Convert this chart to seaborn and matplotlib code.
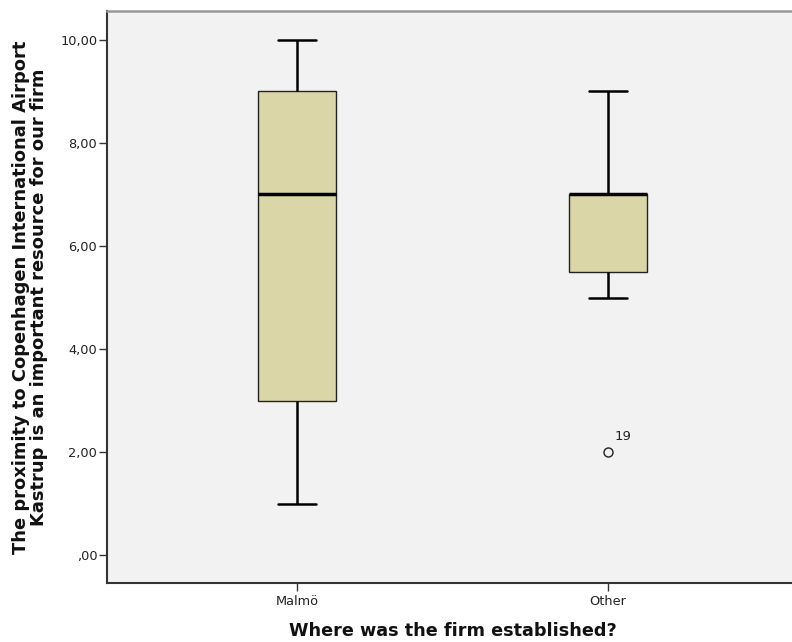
import matplotlib
matplotlib.use("Agg")
import matplotlib.pyplot as plt
import seaborn as sns
import pandas as pd

# Data (raw responses chosen so the boxplot statistics match the reference)
malmo_values = [1, 2, 3, 5, 7, 8, 9, 9, 10]
other_values = [2, 5, 5, 6, 7, 7, 7, 7, 7, 8, 9]
categories = ["Malmö", "Other"]
outlier_label = "19"
outlier_value = 2
y_ticks = [0, 2, 4, 6, 8, 10]

df = pd.DataFrame({
    "group": ["Malmö"] * len(malmo_values) + ["Other"] * len(other_values),
    "value": malmo_values + other_values,
})

sns.set_theme(style="ticks")
plt.rcParams["font.family"] = ["DejaVu Sans"]

fig = plt.figure(figsize=(7.92, 6.42), dpi=100)
ax = fig.add_axes([107 / 792, 1 - 583 / 642, (798 - 107) / 792, (583 - 11) / 642])
ax.set_facecolor("#F2F2F2")

sns.boxplot(data=df, x="group", y="value", order=categories, ax=ax,
            color="#DAD6A8", saturation=1, width=0.248, whis=1.5,
            linecolor="black", linewidth=1.6,
            boxprops=dict(linewidth=1.0, edgecolor="#222222"),
            medianprops=dict(linewidth=2.5, color="black"),
            whiskerprops=dict(linewidth=1.8, color="black"),
            capprops=dict(linewidth=1.8, color="black"),
            flierprops=dict(marker="o", markersize=6.5, markerfacecolor="none",
                            markeredgecolor="#222222", markeredgewidth=1.0))

ax.annotate(outlier_label, xy=(categories.index("Other"), outlier_value),
            xytext=(4.5, 6.5), textcoords="offset points", fontsize=9.5,
            color="#222222", ha="left", va="bottom")

ax.set_xlim(-190 / 311, 1 + 190 / 311)
ax.set_ylim(-0.54, 10.56)
ax.set_yticks(y_ticks)
ax.set_yticklabels([("%.2f" % v).replace(".", ",").lstrip("0") if v == 0 else ("%.2f" % v).replace(".", ",") for v in y_ticks])
ax.tick_params(axis="both", direction="out", length=6, width=1, color="#333333",
               labelsize=9.3, labelcolor="#222222")
ax.tick_params(axis="x", pad=2.5)
ax.tick_params(axis="y", pad=1)
ax.set_xlabel("Where was the firm established?", fontsize=12.7, fontweight="bold",
              color="#111111", labelpad=10)
ax.set_ylabel("The proximity to Copenhagen International Airport\nKastrup is an important resource for our firm",
              fontsize=12.9, fontweight="bold", color="#111111", labelpad=9, linespacing=1.0)

for side in ["left", "bottom"]:
    ax.spines[side].set_color("#333333")
    ax.spines[side].set_linewidth(1.5)
ax.spines["top"].set_color("#999999")
ax.spines["top"].set_linewidth(1.8)
ax.spines["right"].set_visible(False)
ax.grid(False)

fig.savefig("out.png", dpi=100)
